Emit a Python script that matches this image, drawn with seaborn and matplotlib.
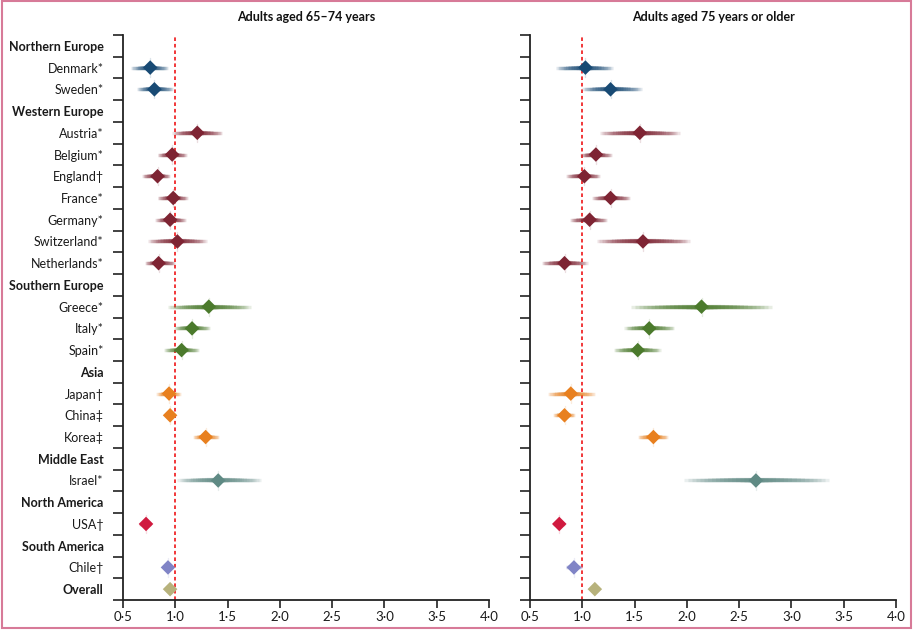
import matplotlib
matplotlib.use("Agg")
import matplotlib.pyplot as plt
from matplotlib.collections import LineCollection
from matplotlib.patches import Rectangle
import numpy as np
import pandas as pd
import seaborn as sns

# rows top to bottom; region headers have no estimate
labels = ["Northern Europe", "Denmark*", "Sweden*",
          "Western Europe", "Austria*", "Belgium*", "England\u2020", "France*",
          "Germany*", "Switzerland*", "Netherlands*",
          "Southern Europe", "Greece*", "Italy*", "Spain*",
          "Asia", "Japan\u2020", "China\u2021", "Korea\u2021",
          "Middle East", "Israel*",
          "North America", "USA\u2020",
          "South America", "Chile\u2020",
          "Overall"]
headers = ["Northern Europe", "Western Europe", "Southern Europe", "Asia",
           "Middle East", "North America", "South America", "Overall"]

countries = ["Denmark*", "Sweden*", "Austria*", "Belgium*", "England\u2020",
             "France*", "Germany*", "Switzerland*", "Netherlands*",
             "Greece*", "Italy*", "Spain*", "Japan\u2020", "China\u2021",
             "Korea\u2021", "Israel*", "USA\u2020", "Chile\u2020", "Overall"]
region = ["Northern Europe"] * 2 + ["Western Europe"] * 7 + ["Southern Europe"] * 3 + \
         ["Asia"] * 3 + ["Middle East", "North America", "South America", "Overall"]

# adults aged 65-74
est_young = [0.76, 0.80, 1.21, 0.97, 0.83, 0.98, 0.95, 1.02, 0.84,
             1.32, 1.16, 1.06, 0.94, 0.95, 1.29, 1.41, 0.72, 0.93, 0.95]
lo_young = [0.58, 0.63, 0.97, 0.83, 0.68, 0.83, 0.81, 0.74, 0.71,
            0.93, 0.99, 0.89, 0.82, 0.90, 1.17, 1.02, 0.65, 0.88, 0.95]
hi_young = [0.93, 0.98, 1.45, 1.11, 0.95, 1.12, 1.10, 1.30, 1.00,
            1.72, 1.33, 1.23, 1.05, 1.00, 1.42, 1.82, 0.77, 0.98, 0.95]

# adults aged 75 or older
est_old = [1.03, 1.27, 1.55, 1.13, 1.02, 1.27, 1.07, 1.58, 0.83,
           2.14, 1.64, 1.53, 0.89, 0.83, 1.68, 2.66, 0.78, 0.92, 1.12]
lo_old = [0.75, 1.00, 1.17, 0.98, 0.84, 1.09, 0.88, 1.14, 0.61,
          1.47, 1.40, 1.30, 0.67, 0.72, 1.53, 1.97, 0.72, 0.84, 1.12]
hi_old = [1.29, 1.57, 1.93, 1.28, 1.17, 1.46, 1.24, 2.03, 1.05,
          2.81, 1.88, 1.75, 1.12, 0.93, 1.82, 3.36, 0.83, 1.00, 1.12]

palette = {"Northern Europe": "#184a74", "Western Europe": "#7e2433",
           "Southern Europe": "#4b7a2c", "Asia": "#e8801f",
           "Middle East": "#5f8a84", "North America": "#d01a3f",
           "South America": "#8084c6", "Overall": "#b7b27c"}

xticks = [0.5, 1.0, 1.5, 2.0, 2.5, 3.0, 3.5, 4.0]

sns.set_theme(style="white")
plt.rcParams["font.family"] = ["Lato", "DejaVu Sans"]

row = {lab: i for i, lab in enumerate(labels)}


def fade_ci(ax, y, est, lo, hi, color, n=18):
    """stack translucent lines so the CI fades towards its ends"""
    segs, widths = [], []
    for k in range(1, n + 1):
        f = k / n
        segs.append([(est - (est - lo) * f, y), (est + (hi - est) * f, y)])
        widths.append(2.4 + 1.4 * (1 - f) ** 2)
    ax.add_collection(LineCollection(segs, colors=color, alpha=0.13,
                                     linewidths=widths, capstyle="butt", zorder=2))
    # faint vertical spike through the diamond
    ax.plot([est, est], [y - 0.42, y + 0.42], color=color, alpha=0.15,
            lw=1.0, zorder=2)


def panel(ax, est, lo, hi, title, show_labels):
    df = pd.DataFrame({"label": countries, "region": region,
                       "est": est, "lo": lo, "hi": hi})
    df["y"] = df["label"].map(row)
    for _, r in df.iterrows():
        if r["hi"] > r["lo"]:
            fade_ci(ax, r["y"], r["est"], r["lo"], r["hi"], palette[r["region"]])
    sns.scatterplot(data=df, x="est", y="y", hue="region", palette=palette,
                    marker="D", s=55, edgecolor="none", legend=False,
                    ax=ax, zorder=3)
    ax.axvline(1.0, color="#f0282a", ls=(0, (2, 1.6)), lw=1.3, zorder=1)

    ax.set_xlim(0.5, 4.0)
    ax.set_ylim(len(labels) - 0.5, -0.5)
    ax.set_xticks(xticks)
    ax.set_xticklabels([f"{v:.1f}".replace(".", "\u00b7") for v in xticks])
    ax.set_yticks(np.arange(-0.5, len(labels), 1.0))
    ax.set_yticklabels([])
    ax.set_yticks(np.arange(len(labels)), minor=True)
    if show_labels:
        ax.set_yticklabels(labels, minor=True)
        for t in ax.get_yticklabels(minor=True):
            if t.get_text() in headers:
                t.set_fontweight("bold")
    else:
        ax.set_yticklabels([], minor=True)
    ax.tick_params(axis="y", which="major", direction="out", length=7,
                   width=1.2, color="#222222", left=True)
    ax.tick_params(axis="y", which="minor", length=0, pad=14,
                   labelsize=9, labelcolor="#1a1a1a")
    ax.tick_params(axis="x", direction="out", length=6, width=1.2,
                   color="#222222", bottom=True, labelsize=9.5,
                   labelcolor="#1a1a1a", pad=2)
    ax.set_xlabel("")
    ax.set_ylabel("")
    sns.despine(ax=ax)
    for s in ("left", "bottom"):
        ax.spines[s].set_color("#222222")
        ax.spines[s].set_linewidth(1.3)
    ax.set_title(title, fontsize=9, fontweight="bold", pad=10, color="#111111")


fig = plt.figure(figsize=(9.16, 6.33), dpi=100)
ax1 = fig.add_axes([0.1343, 0.0521, 0.3996, 0.8926])
ax2 = fig.add_axes([0.5786, 0.0521, 0.3996, 0.8926])

panel(ax1, est_young, lo_young, hi_young, "Adults aged 65\u201374 years", True)
panel(ax2, est_old, lo_old, hi_old, "Adults aged 75 years or older", False)

fig.patches.append(Rectangle((0.002, 0.008), 0.9925, 0.99, transform=fig.transFigure,
                             fill=False, edgecolor="#d77a98", lw=1.5))

fig.savefig("out.png", dpi=100)
